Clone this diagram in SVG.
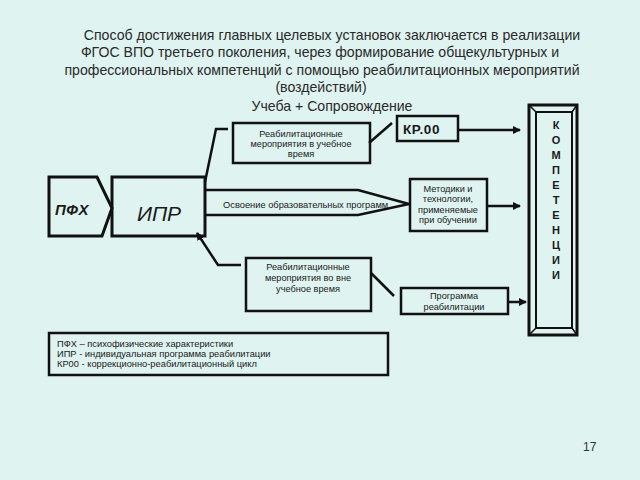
<svg xmlns="http://www.w3.org/2000/svg" width="640" height="480" viewBox="0 0 640 480">
<defs>
<style>
.t{font-family:"Liberation Sans",Arial,sans-serif;fill:#1a1a1a}
.title{font-size:14.1px;text-anchor:middle;fill:#2a2a2a}
.s{font-size:9.2px;text-anchor:middle}
.box{fill:none;stroke:#111;stroke-width:2.5}
.ln{fill:none;stroke:#111;stroke-width:2.5}
.k{font-size:11px;font-weight:bold;text-anchor:middle}
.lg{font-size:9.3px}
</style>
<marker id="ah" markerWidth="8" markerHeight="8" refX="7" refY="4" orient="auto" markerUnits="userSpaceOnUse">
<path d="M0,0 L8,4 L0,8 z" fill="#111"/>
</marker>
</defs>
<rect width="640" height="480" fill="#dff3f0"/>

<g id="title">
<text class="t title" x="332" y="40">Способ достижения главных целевых установок заключается в реализации</text>
<text class="t title" x="320" y="57">ФГОС ВПО третьего поколения, через формирование общекультурных и</text>
<text class="t title" x="322" y="75">профессиональных компетенций с помощью реабилитационных мероприятий</text>
<text class="t title" x="321" y="92">(воздействий)</text>
<text class="t title" x="332" y="111">Учеба + Сопровождение</text>
</g>

<g id="connectors">
<polyline class="ln" points="205,182 216,129 228,129"/>
<polyline class="ln" points="205,190 358,190 409,204 358,215 205,215"/>
<polyline class="ln" points="369,143 392,123"/>
<polyline class="ln" points="241,265 218,265 197,233" marker-end="url(#ah)"/>
<polyline class="ln" points="371,273 394,296"/>
<line class="ln" x1="458" y1="130" x2="520" y2="130" marker-end="url(#ah)"/>
<line class="ln" x1="487" y1="206" x2="520" y2="206" marker-end="url(#ah)"/>
<line class="ln" x1="508" y1="302" x2="526" y2="302" marker-end="url(#ah)"/>
<text class="t" x="223" y="208" style="font-size:9.3px">Освоение образовательных программ</text>
</g>

<g id="pfx">
<polygon points="49,177 97,177 112,208 102,236 49,236" fill="none" stroke="#111" stroke-width="3"/>
<text class="t" x="55" y="215" style="font-size:15px;font-weight:bold;font-style:italic;letter-spacing:0.5px">ПФХ</text>
</g>

<g id="ipr">
<rect x="112" y="177" width="93" height="59" fill="none" stroke="#111" stroke-width="3"/>
<text class="t" x="159" y="221" style="font-size:21px;font-style:italic;text-anchor:middle">ИПР</text>
</g>

<g id="rehab-study">
<rect class="box" x="233" y="123" width="137" height="40"/>
<text class="t s" x="301" y="137">Реабилитационные</text>
<text class="t s" x="301" y="147">мероприятия в учебное</text>
<text class="t s" x="301" y="157">время</text>
</g>

<g id="kr00">
<rect class="box" x="397" y="116" width="61" height="25"/>
<text class="t" x="403" y="134" style="font-size:13.5px;font-weight:bold;letter-spacing:0.6px">КР.00</text>
</g>

<g id="methods">
<rect class="box" x="410" y="179" width="77" height="52"/>
<text class="t s" x="448" y="192">Методики и</text>
<text class="t s" x="448" y="202">технологии,</text>
<text class="t s" x="448" y="213">применяемые</text>
<text class="t s" x="448" y="223">при обучении</text>
</g>

<g id="rehab-out">
<rect class="box" x="246" y="258" width="125" height="53"/>
<text class="t s" x="308" y="270">Реабилитационные</text>
<text class="t s" x="308" y="281">мероприятия во вне</text>
<text class="t s" x="308" y="292">учебное время</text>
</g>

<g id="program">
<rect class="box" x="401" y="288" width="107" height="26"/>
<text class="t s" x="454" y="299">Программа</text>
<text class="t s" x="454" y="310">реабилитации</text>
</g>

<g id="competencies">
<rect x="529" y="105" width="48" height="230" fill="none" stroke="#111" stroke-width="3"/>
<rect x="536" y="112" width="36" height="216" fill="none" stroke="#111" stroke-width="2"/>
<path d="M529,105 L536,112 M577,105 L572,112 M529,335 L536,328 M577,335 L572,328" stroke="#111" stroke-width="1.5"/>
<text class="t k" x="556" y="129">К</text>
<text class="t k" x="556" y="144">О</text>
<text class="t k" x="556" y="159">М</text>
<text class="t k" x="556" y="174">П</text>
<text class="t k" x="556" y="189">Е</text>
<text class="t k" x="556" y="204">Т</text>
<text class="t k" x="556" y="219">Е</text>
<text class="t k" x="556" y="234">Н</text>
<text class="t k" x="556" y="249">Ц</text>
<text class="t k" x="556" y="264">И</text>
<text class="t k" x="556" y="279">И</text>
</g>

<g id="legend">
<rect class="box" x="49" y="333" width="339" height="42"/>
<text class="t lg" x="57" y="347">ПФХ – психофизические характеристики</text>
<text class="t lg" x="57" y="357">ИПР - индивидуальная программа реабилитации</text>
<text class="t lg" x="57" y="367">КР00 - коррекционно-реабилитационный цикл</text>
</g>

<text class="t" x="583" y="451" style="font-size:12px;fill:#333">17</text>
</svg>
